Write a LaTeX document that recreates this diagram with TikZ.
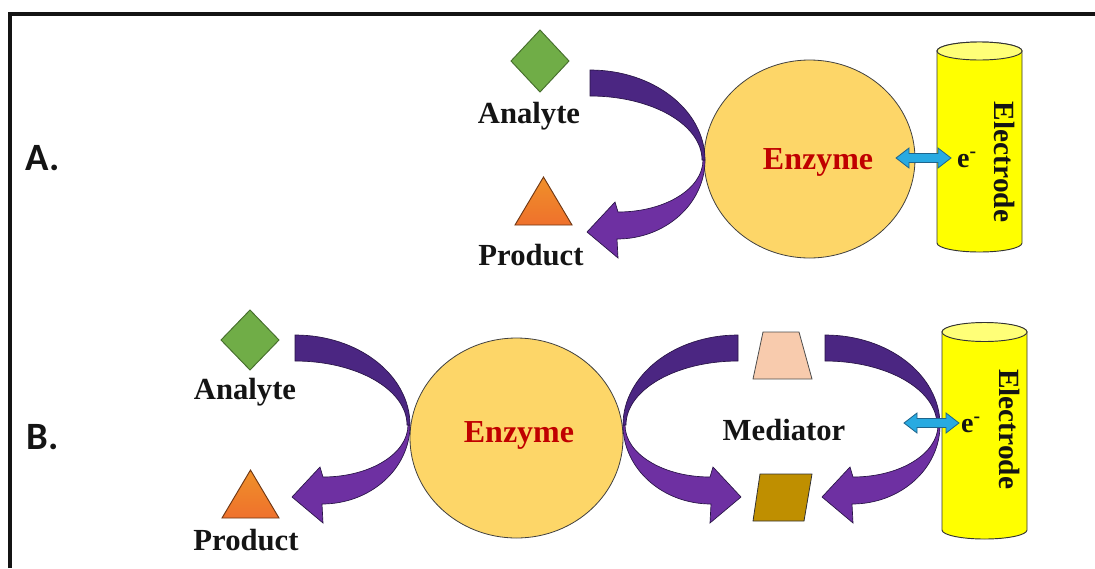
\documentclass[tikz,border=0pt]{standalone}
\usepackage{fontspec}
\setmainfont{Liberation Serif}
\newfontfamily\labfont{Carlito}
\definecolor{pdark}{RGB}{75,38,130}
\definecolor{plight}{RGB}{110,48,162}
\definecolor{pline}{RGB}{40,20,70}
\definecolor{enzfill}{RGB}{253,214,104}
\definecolor{enzred}{RGB}{192,0,0}
\definecolor{elyel}{RGB}{255,255,0}
\definecolor{eltop}{RGB}{255,255,120}
\definecolor{anagreen}{RGB}{112,173,71}
\definecolor{anaedge}{RGB}{70,110,45}
\definecolor{prodor}{RGB}{237,125,49}
\definecolor{prodedge}{RGB}{110,55,20}
\definecolor{medox}{RGB}{248,203,173}
\definecolor{medred}{RGB}{191,143,0}
\definecolor{ecyan}{RGB}{40,170,225}
\definecolor{ecyanedge}{RGB}{30,100,140}
\definecolor{txt}{RGB}{20,20,20}
\newcommand\purplearrow{%
  \filldraw[fill=plight, draw=pline, line width=0.5pt]
    (705,160) arc[start angle=0,end angle=90,x radius=88,y radius=79]
    -- (618,258) -- (587,232) -- (615,202) -- (618,212)
    arc[start angle=90,end angle=0,x radius=85,y radius=52] -- cycle;
  \filldraw[fill=pdark, draw=pline, line width=0.5pt]
    (590,70) arc[start angle=270,end angle=360,x radius=115,y radius=90]
    -- (702,160) arc[start angle=360,end angle=270,x radius=112,y radius=64] -- cycle;
}
\newcommand\electronarrow{%
  \filldraw[fill=ecyan, draw=ecyanedge, line width=0.6pt]
    (0,0) -- (13,-10) -- (13,-4.5) -- (42,-4.5) -- (42,-10) -- (55,0)
    -- (42,10) -- (42,4.5) -- (13,4.5) -- (13,10) -- cycle;
}
\tikzset{
  lab/.style={font=\bfseries\fontsize{23}{27}\selectfont, text=txt, inner sep=0pt},
  enzlab/.style={font=\bfseries\fontsize{24}{28}\selectfont, text=enzred, inner sep=0pt},
  seclab/.style={font=\labfont\bfseries\fontsize{29}{33}\selectfont, text=txt, inner sep=0pt},
  eleclab/.style={font=\bfseries\fontsize{22}{26}\selectfont, text=txt, inner sep=0pt, rotate=-90},
  elab/.style={font=\bfseries\fontsize{21}{25}\selectfont, text=txt, inner sep=0pt},
  enzbody/.style={fill=enzfill, draw=black!75, line width=0.6pt},
  elbody/.style={fill=elyel, draw=black!80, line width=0.7pt},
  eltopst/.style={fill=eltop, draw=black!80, line width=0.7pt},
  ana/.style={fill=anagreen, draw=anaedge, line width=0.7pt},
  prod/.style={top color=prodor!85!yellow, bottom color=prodor!90!red, draw=prodedge, line width=0.7pt},
}
\begin{document}
\begin{tikzpicture}[x=0.75pt,y=-0.75pt]
\useasboundingbox (0,0) rectangle (1095,568);
% frame
\draw[line width=3pt, txt] (9.5,568) -- (9.5,13.5) -- (1095,13.5);
% section labels
\node[seclab] (labA) at (43,158) {A.};
\node[seclab] (labB) at (43,437) {B.};

% ---------------- A ----------------
\draw[enzbody] (809.5,159) ellipse[x radius=105.5, y radius=99];
\node[enzlab] (enzA) at (818,162) {Enzyme};
\purplearrow
\draw[ana] (540,30) -- (569,61) -- (540,92) -- (511,61) -- cycle;
\node[lab] (anaA) at (529,116) {Analyte};
\draw[prod] (543.5,177) -- (572,225) -- (515,225) -- cycle;
\node[lab] (prodA) at (531,255) {Product};
% electrode A
\filldraw[elbody] (937,51) -- (937,243) arc[start angle=180,end angle=0,x radius=42.5,y radius=9]
  -- (1022,51) arc[start angle=0,end angle=-180,x radius=42.5,y radius=9] -- cycle;
\draw[eltopst] (979.5,51) ellipse[x radius=42.5, y radius=9];
\node[eleclab] (elecA) at (1005,162) {Electrode};
\node[elab] (eA) at (967,160) {e\textsuperscript{-}};
\begin{scope}[shift={(896,158)}]\electronarrow\end{scope}

% ---------------- B ----------------
\draw[enzbody] (516.5,438) ellipse[x radius=106.5, y radius=100];
\node[enzlab] (enzB) at (519,435) {Enzyme};
\begin{scope}[shift={(-295,265)}]\purplearrow\end{scope}
\begin{scope}[shift={(1328,265)}, xscale=-1]\purplearrow\end{scope}
\begin{scope}[shift={(235,265)}]\purplearrow\end{scope}
\draw[ana] (250,310) -- (279,340) -- (250,370) -- (221,340) -- cycle;
\node[lab] (anaB) at (245,392) {Analyte};
\draw[prod] (250.5,470) -- (279,518) -- (222,518) -- cycle;
\node[lab] (prodB) at (246,540) {Product};
% mediator
\draw[fill=medox, draw=black!70, line width=0.6pt] (763,332) -- (799,332) -- (812,379) -- (753,379) -- cycle;
\node[lab] (med) at (784,430) {Mediator};
\draw[fill=medred, draw=black!80, line width=0.6pt] (760,474) -- (812,474) -- (804,521) -- (753,521) -- cycle;
% electrode B
\filldraw[elbody] (942,332) -- (942,530) arc[start angle=180,end angle=0,x radius=42.5,y radius=9]
  -- (1027,332) arc[start angle=0,end angle=-180,x radius=42.5,y radius=9] -- cycle;
\draw[eltopst] (984.5,332) ellipse[x radius=42.5, y radius=9.5];
\node[eleclab] (elecB) at (1010,429) {Electrode};
\node[elab] (eB) at (971,425) {e\textsuperscript{-}};
\begin{scope}[shift={(904,423)}]\electronarrow\end{scope}
\end{tikzpicture}
\end{document}
